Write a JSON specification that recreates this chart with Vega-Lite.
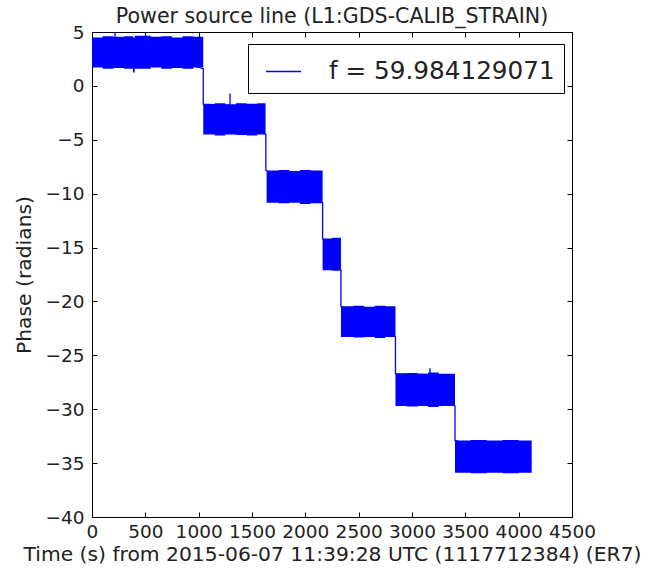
{
  "$schema": "https://vega.github.io/schema/vega-lite/v6.json",
  "width": 480,
  "height": 485,
  "autosize": {"type": "none"},
  "padding": {"left": 92, "top": 32, "right": 100, "bottom": 52},
  "background": "white",
  "config": {
    "font": "DejaVu Sans",
    "view": {"stroke": "black", "strokeWidth": 1},
    "axis": {
      "grid": false,
      "domainColor": "black",
      "tickColor": "black",
      "tickSize": -5,
      "labelColor": "#222222",
      "titleColor": "#222222",
      "labelFontSize": 18.5,
      "titleFontSize": 20.3,
      "titleFontWeight": "normal",
      "labelFont": "DejaVu Sans",
      "titleFont": "DejaVu Sans"
    },
    "title": {"fontSize": 20.6, "fontWeight": "normal", "font": "DejaVu Sans", "color": "#222222"}
  },
  "title": {"text": "Power source line (L1:GDS-CALIB_STRAIN)", "offset": -5},
  "datasets": {
    "band": [
      {"seg": 1, "t": 0, "hi": 4.5, "lo": 1.7},
      {"seg": 1, "t": 100, "hi": 4.6, "lo": 1.6},
      {"seg": 1, "t": 200, "hi": 4.55, "lo": 1.65},
      {"seg": 1, "t": 300, "hi": 4.6, "lo": 1.6},
      {"seg": 1, "t": 384, "hi": 4.5, "lo": 1.25},
      {"seg": 1, "t": 400, "hi": 4.65, "lo": 1.6},
      {"seg": 1, "t": 550, "hi": 4.55, "lo": 1.7},
      {"seg": 1, "t": 650, "hi": 4.6, "lo": 1.6},
      {"seg": 1, "t": 750, "hi": 4.5, "lo": 1.65},
      {"seg": 1, "t": 850, "hi": 4.6, "lo": 1.6},
      {"seg": 1, "t": 950, "hi": 4.55, "lo": 1.7},
      {"seg": 1, "t": 1043, "hi": 4.6, "lo": 1.55},
      {"seg": 2, "t": 1043, "hi": -1.7, "lo": -4.5},
      {"seg": 2, "t": 1150, "hi": -1.6, "lo": -4.6},
      {"seg": 2, "t": 1250, "hi": -1.7, "lo": -4.5},
      {"seg": 2, "t": 1350, "hi": -1.6, "lo": -4.55},
      {"seg": 2, "t": 1450, "hi": -1.65, "lo": -4.6},
      {"seg": 2, "t": 1550, "hi": -1.6, "lo": -4.5},
      {"seg": 2, "t": 1627, "hi": -1.65, "lo": -4.6},
      {"seg": 3, "t": 1637, "hi": -7.85, "lo": -10.85},
      {"seg": 3, "t": 1750, "hi": -7.8, "lo": -10.9},
      {"seg": 3, "t": 1850, "hi": -7.9, "lo": -10.85},
      {"seg": 3, "t": 1950, "hi": -7.8, "lo": -10.95},
      {"seg": 3, "t": 2050, "hi": -7.85, "lo": -10.9},
      {"seg": 3, "t": 2162, "hi": -7.8, "lo": -10.85},
      {"seg": 4, "t": 2162, "hi": -14.15, "lo": -17.1},
      {"seg": 4, "t": 2250, "hi": -14.1, "lo": -17.15},
      {"seg": 4, "t": 2334, "hi": -14.15, "lo": -17.1},
      {"seg": 5, "t": 2334, "hi": -20.45, "lo": -23.3},
      {"seg": 5, "t": 2450, "hi": -20.4, "lo": -23.35},
      {"seg": 5, "t": 2550, "hi": -20.5, "lo": -23.3},
      {"seg": 5, "t": 2650, "hi": -20.4, "lo": -23.4},
      {"seg": 5, "t": 2750, "hi": -20.45, "lo": -23.3},
      {"seg": 5, "t": 2845, "hi": -20.4, "lo": -23.35},
      {"seg": 6, "t": 2845, "hi": -26.7, "lo": -29.7},
      {"seg": 6, "t": 2950, "hi": -26.65, "lo": -29.75},
      {"seg": 6, "t": 3050, "hi": -26.7, "lo": -29.7},
      {"seg": 6, "t": 3150, "hi": -26.6, "lo": -29.8},
      {"seg": 6, "t": 3250, "hi": -26.7, "lo": -29.7},
      {"seg": 6, "t": 3403, "hi": -26.65, "lo": -29.75},
      {"seg": 7, "t": 3403, "hi": -32.9, "lo": -35.9},
      {"seg": 7, "t": 3550, "hi": -32.85, "lo": -35.95},
      {"seg": 7, "t": 3700, "hi": -32.9, "lo": -35.9},
      {"seg": 7, "t": 3850, "hi": -32.85, "lo": -35.95},
      {"seg": 7, "t": 4000, "hi": -32.9, "lo": -35.9},
      {"seg": 7, "t": 4122, "hi": -32.85, "lo": -35.95}
    ],
    "trace": [
      {"i": 0, "t": 0, "phase": 3.0},
      {"i": 1, "t": 216, "phase": 4.5},
      {"i": 2, "t": 216, "phase": 5.0},
      {"i": 3, "t": 216, "phase": 4.0},
      {"i": 4, "t": 1043, "phase": 1.6},
      {"i": 5, "t": 1043, "phase": -1.7},
      {"i": 6, "t": 1294, "phase": -1.8},
      {"i": 7, "t": 1294, "phase": -0.7},
      {"i": 8, "t": 1294, "phase": -2.0},
      {"i": 9, "t": 1630, "phase": -4.5},
      {"i": 10, "t": 1630, "phase": -7.85},
      {"i": 11, "t": 2162, "phase": -10.85},
      {"i": 12, "t": 2162, "phase": -14.15},
      {"i": 13, "t": 2334, "phase": -17.1},
      {"i": 14, "t": 2334, "phase": -20.45},
      {"i": 15, "t": 2845, "phase": -23.3},
      {"i": 16, "t": 2845, "phase": -26.7},
      {"i": 17, "t": 3169, "phase": -26.8},
      {"i": 18, "t": 3169, "phase": -26.2},
      {"i": 19, "t": 3169, "phase": -27.0},
      {"i": 20, "t": 3403, "phase": -29.7},
      {"i": 21, "t": 3403, "phase": -32.9},
      {"i": 22, "t": 4122, "phase": -35.0}
    ]
  },
  "layer": [
    {
      "data": {"name": "band"},
      "mark": {"type": "area", "color": "#0000ff", "opacity": 1, "interpolate": "step-after"},
      "encoding": {
        "x": {
          "field": "t", "type": "quantitative",
          "scale": {"domain": [0, 4500], "nice": false},
          "axis": {"values": [0, 500, 1000, 1500, 2000, 2500, 3000, 3500, 4000, 4500], "format": "d", "labelPadding": 10, "labelFlush": false, "labelOverlap": false, "title": "Time (s) from 2015-06-07 11:39:28 UTC (1117712384) (ER7)", "titlePadding": 4}
        },
        "y": {
          "field": "hi", "type": "quantitative",
          "scale": {"domain": [-40, 5], "nice": false},
          "axis": {"values": [-40, -35, -30, -25, -20, -15, -10, -5, 0, 5], "labelPadding": 13, "labelOverlap": false, "title": "Phase (radians)", "titlePadding": 10}
        },
        "y2": {"field": "lo"},
        "detail": {"field": "seg"}
      }
    },
    {
      "data": {"name": "trace"},
      "mark": {"type": "line", "strokeWidth": 1.3},
      "encoding": {
        "x": {"field": "t", "type": "quantitative", "axis": {"orient": "top", "labels": false, "title": null, "values": [0, 500, 1000, 1500, 2000, 2500, 3000, 3500, 4000, 4500]}},
        "y": {"field": "phase", "type": "quantitative", "axis": {"orient": "right", "labels": false, "title": null, "values": [-40, -35, -30, -25, -20, -15, -10, -5, 0, 5]}},
        "order": {"field": "i"},
        "color": {
          "datum": "f = 59.984129071",
          "scale": {"range": ["#0000ff"]},
          "legend": {
            "title": null,
            "orient": "none",
            "legendX": 156,
            "legendY": 12,
            "symbolType": "stroke",
            "symbolSize": 1225,
            "symbolStrokeWidth": 1.5,
            "symbolOffset": 8,
            "labelFontSize": 24.7,
            "labelFont": "DejaVu Sans",
            "labelColor": "#222222",
            "labelOffset": 27,
            "labelLimit": 400,
            "strokeColor": "black",
            "fillColor": "white",
            "padding": 9
          }
        }
      }
    }
  ],
  "resolve": {"axis": {"x": "independent", "y": "independent"}}
}
